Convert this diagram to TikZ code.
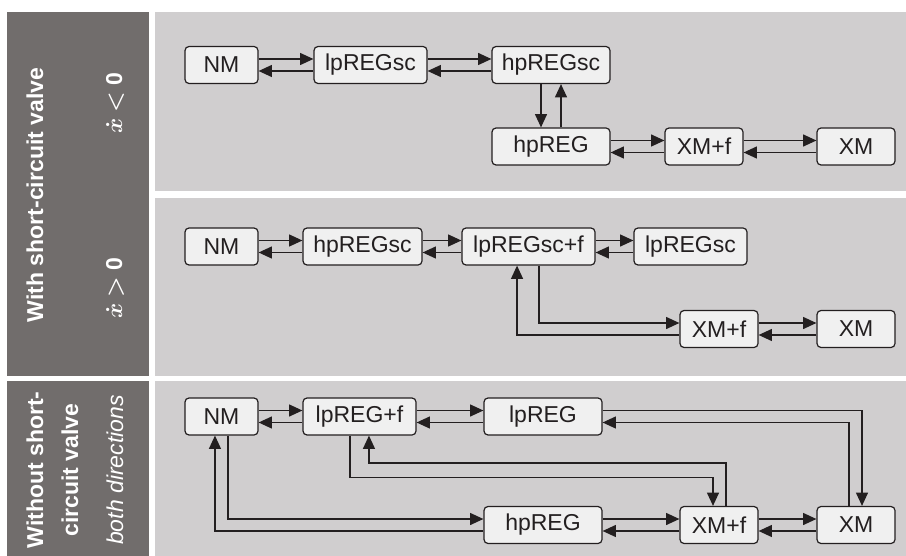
\documentclass[tikz,border=0pt]{standalone}
\usepackage{amsmath}
\usepackage{fontspec}
\setmainfont{Liberation Sans}
\usepackage{tikz}
\usetikzlibrary{arrows.meta,positioning,calc}
\definecolor{panelbg}{HTML}{D0CECF}
\definecolor{sidebg}{HTML}{716D6C}
\definecolor{modefill}{HTML}{F0F0F0}
\definecolor{inkline}{HTML}{231F20}
\def\px{0.75pt}
\tikzset{
    mode/.style={draw=inkline, fill=modefill, text=inkline, line width=0.9pt,
        rounded corners=3pt, inner sep=0pt, minimum height=27.75pt,
        minimum width=#1*0.75pt, font=\fontsize{17.25}{20}\selectfont},
    arr/.style={draw=inkline, line width=1pt, -{Triangle[length=10pt,width=9pt]}},
    sidelab/.style={rotate=90, text=white, font=\fontsize{17.25}{26.25}\selectfont}
}

\begin{document}
\begin{tikzpicture}[x=\px, y=-\px]
\useasboundingbox (0,0) rectangle (906,556);

% Panels
\fill[sidebg] (7,12) rectangle (149,376);
\fill[sidebg] (7,381) rectangle (149,556);
\fill[panelbg] (155,12) rectangle (906,191);
\fill[panelbg] (155,198) rectangle (906,376);
\fill[panelbg] (155,381) rectangle (906,556);

% Side labels
\node[sidelab, font=\bfseries\fontsize{17.25}{20}\selectfont] (withsc) at (35,195) {With short-circuit valve};
\node[sidelab] (neg) at (115,103) {$\boldsymbol{\dot{x}} \boldsymbol{<} \mathbf{0}$};
\node[sidelab] (pos) at (115,288) {$\boldsymbol{\dot{x}} \boldsymbol{>} \mathbf{0}$};
\node[sidelab, align=center, font=\bfseries\fontsize{17.25}{26.25}\selectfont] (withoutsc) at (52.5,470) {Without short-\\circuit valve};
\node[sidelab, font=\itshape\fontsize{17.25}{20}\selectfont] (both) at (115,470) {both directions};

% Modes, x < 0
\node[mode=73]  (nm1)  at (221.5,65)  {NM};
\node[mode=113] (lps1) at (370.5,65)  {lpREGsc};
\node[mode=118] (hps1) at (551,65)    {hpREGsc};
\node[mode=118] (hpr1) at (551,146.5) {hpREG};
\node[mode=78]  (xmf1) at (704,146.5) {XM+f};
\node[mode=78]  (xm1)  at (856,146.5) {XM};

% Modes, x > 0
\node[mode=73]  (nm2)  at (221.5,246.5) {NM};
\node[mode=119] (hps2) at (362.5,246.5) {hpREGsc};
\node[mode=133] (lpf2) at (528.5,246.5) {lpREGsc+f};
\node[mode=113] (lps2) at (690.5,246.5) {lpREGsc};
\node[mode=78]  (xmf2) at (719,329)     {XM+f};
\node[mode=78]  (xm2)  at (856,329)     {XM};

% Modes, both directions
\node[mode=73]  (nm3)  at (221.5,416.5) {NM};
\node[mode=113] (lpf3) at (359.5,416.5) {lpREG+f};
\node[mode=118] (lpr3) at (543,416.5)   {lpREG};
\node[mode=118] (hpr3) at (543,525)     {hpREG};
\node[mode=78]  (xmf3) at (719,525)     {XM+f};
\node[mode=78]  (xm3)  at (856,525)     {XM};

% Side-by-side transitions
\foreach \a/\b in {nm1/lps1, lps1/hps1, hpr1/xmf1, xmf1/xm1,
                   nm2/hps2, hps2/lpf2, lpf2/lps2, xmf2/xm2,
                   nm3/lpf3, lpf3/lpr3, hpr3/xmf3, xmf3/xm3} {
    \draw[arr] ([yshift=4.5pt]\a.east) -- ([yshift=4.5pt]\b.west);
    \draw[arr] ([yshift=-4.5pt]\b.west) -- ([yshift=-4.5pt]\a.east);
}

% hpREGsc <-> hpREG
\draw[arr] ([xshift=-7.5pt]hps1.south) -- ([xshift=-7.5pt]hpr1.north);
\draw[arr] ([xshift=7.5pt]hpr1.north) -- ([xshift=7.5pt]hps1.south);

% lpREGsc+f <-> XM+f
\draw[arr] ([xshift=7.9pt]lpf2.south) |- ([yshift=4.5pt]xmf2.west);
\draw[arr] ([yshift=-4.5pt]xmf2.west) -| ([xshift=-8.6pt]lpf2.south);

% NM <-> hpREG
\draw[arr] ([xshift=4.9pt]nm3.south) |- ([yshift=4.5pt]hpr3.west);
\draw[arr] ([yshift=-4.5pt]hpr3.west) -| ([xshift=-4.9pt]nm3.south);

% lpREG+f <-> XM+f
\draw[arr] ([xshift=-7.1pt]lpf3.south) -- ++(0,42) -| ([xshift=-4.5pt]xmf3.north);
\draw[arr] ([xshift=5.25pt]xmf3.north) -- ++(0,-43) -| ([xshift=7.1pt]lpf3.south);

% lpREG <-> XM
\draw[arr] ([yshift=4.5pt]lpr3.east) -| ([xshift=4.5pt]xm3.north);
\draw[arr] ([xshift=-5.25pt]xm3.north) |- ([yshift=-4.5pt]lpr3.east);
\end{tikzpicture}
\end{document}
